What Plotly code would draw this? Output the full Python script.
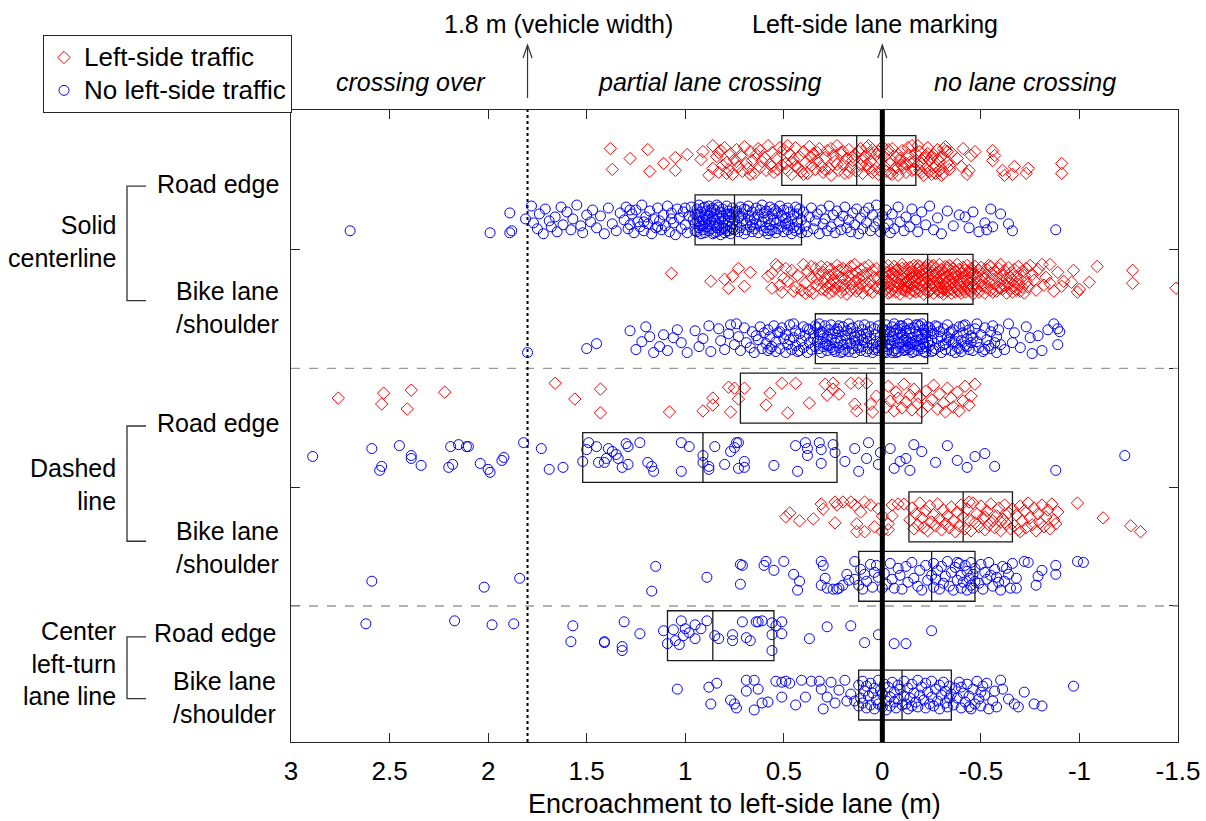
import plotly.graph_objects as go

# ---------------------------------------------------------------
# Data: (encroachment in cm, vertical jitter in 1/60 of a row)
# positive encroachment = into the left-side lane
# ---------------------------------------------------------------
solid_road_left = [
 (138,-12),(137,9),(128,-2),(119,-11),(118,11),(111,3),(105,10),(105,-3),(99,-6),(92,-1),(91,-9),(86,-15),(88,15),(86,8),
 (84,-4),(83,12),(82,-10),(81,5),(80,-13),(79,2),(78,9),(77,-7),(76,14),(75,-1),(74,-11),(73,6),(72,-5),(71,11),(70,-14),(69,3),
 (68,8),(67,-9),(66,0),(65,13),(64,-6),(63,-12),(62,7),(61,1),(60,-3),(59,10),(58,-15),(57,4),(56,-8),(55,12),(54,-2),(53,9),
 (52,-13),(51,5),(83,-8),(79,13),(74,1),(67,14),(62,-10),(56,6),
 (50,-11),(49,3),(48,10),(47,-6),(46,14),(45,-1),(44,-13),(43,7),(42,-4),(41,11),(40,-9),(39,2),(38,13),(37,-14),(36,5),(35,-7),
 (34,9),(33,0),(32,-12),(31,6),(30,12),(29,-3),(28,-10),(27,8),(26,15),(25,-5),(24,1),(23,-15),(22,10),(21,-8),(20,4),(19,13),
 (18,-2),(17,-11),(16,7),(15,0),(14,-6),(13,11),(48,-15),(44,6),(40,14),(36,-3),(33,-8),(29,9),(26,-12),(23,4),(20,-9),(17,12),
 (15,-4),(46,2),
 (12,-9),(11,5),(10,13),(9,-4),(8,-13),(7,8),(6,1),(5,-11),(4,10),(3,-6),(2,14),(1,-1),(0,-14),(-1,6),(-2,11),(-3,-8),(-4,3),
 (-5,-12),(-6,9),(-7,-3),(-8,15),(-9,0),(-10,-10),(-11,7),(-12,12),(-13,-5),(-14,2),(-15,-15),(-16,9),(-17,-7),(11,-12),(8,4),
 (5,12),(2,-9),(-1,-4),(-4,13),(-7,7),(-10,5),(-13,-13),(-16,1),(10,0),(6,-7),(1,10),(-3,-11),(-8,-6),(-12,3),(-15,10),(7,-15),
 (-5,14),(-9,-2),
 (-18,4),(-19,-9),(-20,12),(-21,-2),(-22,8),(-23,-13),(-24,0),(-25,14),(-26,-6),(-27,6),(-28,-11),(-29,10),(-30,-4),(-31,13),
 (-32,-14),(-33,2),(-34,9),(-35,-8),(-18,-15),(-20,3),(-22,-5),(-24,11),(-26,7),(-28,-1),(-30,15),(-32,-10),(-34,5),(-19,10),
 (-23,-7),(-27,13),(-31,-12),(-25,-3),(-29,1),(-33,-9),(-21,15),
 (-41,-12),(-43,14),(-45,-5),(-47,-9),(-56,-10),(-56,0),(-57,-5),(-61,10),(-62,15),(-66,14),(-67,6),(-73,13),(-74,8),(-91,3),
 (-91,13),(-38,-2),(-40,6),(-44,10),
]

solid_road_none = [
 (270,11),(199,13),(189,-7),(189,13),(188,11),(181,-1),
 (178,-14),(177,3),(175,9),(174,-6),(172,14),(171,-11),(169,1),(168,7),(166,-3),(165,12),(163,-13),(162,5),(160,-8),(158,10),
 (157,-1),(155,-15),(153,6),(152,13),(150,-5),(148,2),(147,-10),(145,8),(143,-4),(141,14),(139,-12),(137,4),(135,11),(133,-7),
 (131,0),(130,-13),(129,9),(128,5),(127,-6),(126,13),(125,-10),(124,2),(123,7),(122,-15),(121,11),(120,-3),(119,4),(118,-9),
 (117,14),(116,-1),(115,8),(114,-12),(113,1),(112,10),(111,-5),(110,6),(109,-14),(108,12),(107,-7),(106,3),(105,15),(104,-11),
 (103,-2),(102,9),(101,-8),(100,5),(99,13),(98,-4),(97,-13),(96,0),(95,11),(128,-10),(121,2),(114,7),(107,-1),(100,-12),
 (95,-6),(95,4),(94,12),(94,-11),(94,1),(93,-3),(93,8),(93,-15),(92,6),(92,-8),(92,14),(91,0),(91,-12),(91,10),(90,-5),(90,3),
 (90,13),(89,-9),(89,7),(89,-1),(88,11),(88,-14),(88,4),(87,-7),(87,9),(87,2),(86,-12),(86,14),(86,-3),(85,6),(85,-10),(85,0),
 (84,12),(84,-6),(84,8),(83,-2),(83,-13),(83,5),(82,10),(82,-8),(82,15),(81,-4),(81,3),(81,-11),(80,9),(80,-1),(80,13),(79,-14),
 (79,6),(79,-6),(78,1),(78,11),(78,-9),(77,-3),(77,7),(77,14),(76,-12),(76,4),(76,-5),(75,10),(75,-8),(75,0),(94,-5),(91,6),
 (88,-4),(85,13),(82,-1),(79,11),(76,9),(93,2),(90,-13),(87,-10),(84,-15),(81,8),(78,-6),
 (74,5),(74,-9),(73,12),(73,-2),(72,-13),(72,8),(71,1),(71,-6),(70,14),(70,-11),(69,3),(69,10),(68,-4),(68,-14),(67,7),(67,0),
 (66,12),(66,-8),(65,-1),(65,9),(64,-12),(64,4),(63,13),(63,-5),(62,-10),(62,6),(61,2),(61,-15),(60,11),(60,-3),(59,8),(59,-9),
 (58,-1),(58,14),(57,-13),(57,5),(56,10),(56,-6),(55,0),(55,-11),(54,13),(54,3),(53,-7),(53,9),(52,-14),(52,1),(51,7),(51,-4),
 (50,12),(50,-10),(49,4),(49,-2),(48,-12),(48,10),(47,6),(47,-8),(46,14),(46,-1),(45,-5),(45,8),(44,11),(44,-13),(43,2),(43,-6),
 (42,9),(42,-11),(41,0),(41,13),(72,-4),(66,5),(60,-7),(54,-9),(48,3),(69,-10),(57,11),
 (40,-8),(39,6),(38,12),(37,-3),(36,-12),(35,9),(34,1),(33,-6),(32,14),(31,-10),(30,4),(29,-1),(28,11),(27,-14),(26,7),(25,-5),
 (24,13),(23,-9),(22,2),(21,10),(20,-4),(19,-13),(18,8),(17,0),(16,12),(15,-7),(14,5),(13,-11),(12,14),(11,-2),(10,9),(9,-8),
 (8,3),(7,-12),(6,11),(5,-5),(4,7),(3,-15),(2,1),(1,12),(0,-4),(-1,8),
 (-2,-10),(-3,4),(-4,13),(-5,-6),(-6,9),(-8,-13),(-9,2),(-11,11),(-12,-3),(-14,7),(-15,-11),(-17,0),(-18,12),(-20,-8),(-22,5),
 (-24,-14),(-26,10),(-28,-2),(-30,14),(-33,-9),(-36,6),(-39,-5),
 (-42,-3),(-44,8),(-46,-8),(-49,12),(-52,3),(-53,10),(-55,-11),(-56,7),(-60,-6),(-64,4),(-66,11),(-88,10),
]

solid_bike_left = [
 (107,-6),(87,2),(80,0),(78,9),(76,-3),(73,-11),(70,7),(67,-7),(56,9),(56,-6),(54,-15),(53,-13),(51,13),(48,2),(46,-9),(41,11),
 (40,-15),(39,4),(38,-8),(37,12),(36,-2),(35,14),(34,-11),(33,6),(32,-5),(31,10),
 (58,-3),(52,6),(49,-11),(45,12),(43,-4),(39,14),(36,-13),(33,0),(44,8),(50,-1),
 (31,-13),(30,3),(30,-7),(29,11),(29,-1),(28,8),(28,-12),(27,14),(27,-4),(26,5),(26,-10),(25,1),(25,12),(24,-6),(24,9),(23,-14),
 (23,3),(22,7),(22,-9),(21,13),(21,-2),(20,-11),(20,6),(19,0),(19,10),(18,-8),(18,15),(17,-3),(17,4),(16,-13),(16,11),(15,-5),
 (15,8),(14,2),(14,-15),(13,12),(13,-7),(12,-1),(12,9),(11,-10),(11,5),(10,14),(10,-4),(9,-12),(9,1),(8,7),(8,-6),(7,11),(7,-14),
 (6,3),(5,-9),(5,13),(4,-2),(3,8),(3,-11),(2,0),(1,10),(0,-5),
 (0,6),(-1,-12),(-1,12),(-1,1),(-2,-7),(-2,9),(-3,-3),(-3,14),(-3,-14),(-4,4),(-4,-9),(-5,11),(-5,0),(-5,-6),(-6,7),(-6,-13),
 (-7,2),(-7,13),(-7,-2),(-8,-10),(-8,9),(-9,-4),(-9,5),(-9,15),(-10,-15),(-10,1),(-10,10),(-11,-7),(-11,6),(-11,-1),(-12,12),
 (-12,-11),(-12,3),(-13,-5),(-13,8),(-14,14),(-14,-12),(-14,0),(-15,5),(-15,-8),(-15,11),(-16,-2),(-16,-14),(-16,7),(-17,13),
 (-17,-6),(-17,2),(-18,-10),(-18,9),(-18,-1),(-19,4),(-19,-13),(-19,12),(-20,-4),(-20,7),(-20,-9),(-21,15),(-21,0),(-21,-11),
 (-22,10),(-22,-6),(-22,3),(-23,-15),(-23,13),(-23,-2),(-2,2),(-4,13),(-6,-5),(-8,4),(-10,-11),(-12,8),(-14,-7),(-16,12),
 (-18,-14),(-20,1),(-22,-12),(-3,8),(-7,-9),(-11,11),(-15,-1),(-19,-7),(-13,1),
 (-24,6),(-24,-9),(-24,12),(-25,0),(-25,-13),(-25,9),(-26,-4),(-26,14),(-26,3),(-27,-11),(-27,7),(-27,-1),(-28,11),(-28,-7),
 (-28,2),(-29,-15),(-29,13),(-29,5),(-30,-3),(-30,9),(-30,-10),(-31,1),(-31,15),(-31,-6),(-32,8),(-32,-13),(-32,4),(-33,-2),
 (-33,12),(-33,-9),(-34,6),(-34,-14),(-34,0),(-35,10),(-35,-5),(-35,14),(-36,-11),(-36,3),(-36,-1),(-37,13),(-37,-8),(-37,7),
 (-38,-3),(-38,11),(-38,-15),(-39,5),(-39,-10),(-39,1),(-40,14),(-40,-6),(-40,8),(-41,-12),(-41,2),(-41,10),(-42,-4),(-42,13),
 (-42,-9),(-43,6),(-43,-14),(-43,0),(-44,11),(-44,-7),(-44,4),(-45,-1),(-45,12),(-45,-11),(-46,8),(-46,-5),(-46,15),(-25,5),
 (-27,-6),(-29,-2),(-31,10),(-33,-12),(-35,2),(-37,-4),(-39,12),(-41,-1),(-43,9),(-45,-8),(-26,-14),(-30,13),
 (-47,-13),(-47,4),(-48,10),(-48,-3),(-49,-9),(-49,13),(-50,1),(-50,-12),(-51,7),(-51,-5),(-52,14),(-52,-1),(-53,-10),(-53,9),
 (-54,3),(-54,-14),(-55,11),(-55,-6),(-56,0),(-56,13),(-57,-8),(-57,5),(-58,12),(-58,-2),(-59,-11),(-59,8),(-60,2),(-60,-15),
 (-61,10),(-61,-4),(-62,6),(-62,-9),(-63,14),(-63,-1),(-64,-12),(-64,4),(-65,9),(-65,-6),(-66,1),(-66,13),(-67,-10),(-67,7),
 (-68,-3),(-68,11),(-69,-13),(-69,5),(-70,0),(-70,12),(-71,-8),(-71,8),(-72,-4),(-72,14),(-73,-11),(-73,3),(-50,6),(-55,-13),
 (-60,9),(-65,-2),
 (-75,-14),(-77,1),(-81,-15),(-85,-15),(-85,4),(-91,7),(-92,2),(-96,3),(-97,-9),(-99,13),(-100,10),(-105,3),(-109,-13),
 (-127,-9),(-127,4),(-149,9),(-74,8),(-76,-5),(-78,11),(-79,-10),(-82,6),(-83,-2),(-87,12),(-89,-7),
]

solid_bike_none = [
 (180,14),(150,10),(145,5),(128,-8),(122,3),(116,14),(111,-4),(109,12),(106,-1),(102,4),(120,-12),(113,8),(104,-9),(125,11),(118,-2),
 (99,14),(95,-8),(93,8),(91,0),(88,-13),(87,13),(83,-10),(82,2),(80,11),(78,-5),(77,-14),(75,6),(73,-2),(72,12),(70,-11),(69,4),
 (67,9),(66,-7),(65,14),(64,-3),(63,1),(62,-12),(61,10),(60,-6),(74,-15),
 (59,5),(58,-9),(58,12),(57,-2),(56,8),(55,-13),(54,3),(54,13),(53,-6),(52,10),(51,-11),(50,0),(49,14),(49,-4),(48,6),(47,-14),
 (46,11),(45,-1),(44,-8),(44,7),(43,13),(42,-5),(41,2),(40,-12),(40,9),(39,-3),(38,14),(37,-9),(37,4),(36,11),(35,-6),(35,0),
 (34,-13),(34,8),(57,10),(52,-7),(47,1),(42,12),(38,-10),(45,-15),
 (33,3),(33,-11),(32,10),(32,-4),(31,14),(31,-7),(30,0),(30,8),(29,-13),(29,5),(28,12),(28,-2),(27,-9),(27,7),(26,1),(26,-14),
 (25,11),(25,-5),(24,4),(24,13),(23,-10),(23,-1),(22,9),(22,-7),(21,14),(21,2),(20,-12),(20,6),(19,-3),(19,11),(18,-8),(18,0),
 (17,13),(17,-15),(16,5),(16,-5),(15,10),(15,-11),(14,2),(14,14),(13,-6),(13,7),(12,-13),(12,1),(11,12),(11,-3),(10,-9),(10,8),
 (9,4),(9,-14),(8,13),(8,-1),(7,-7),(7,10),(6,0),(6,-12),(5,6),(5,14),(4,-4),(4,-10),(3,9),(3,3),(2,-13),(2,12),(1,-2),(1,7),
 (32,-15),(28,6),(24,-8),(20,13),(16,-10),(12,9),(8,-5),(4,11),(30,-6),(26,9),(22,-13),(18,5),(14,-2),(10,1),
 (0,4),(0,-10),(-1,13),(-1,-3),(-2,8),(-2,-14),(-3,0),(-3,11),(-4,-7),(-4,6),(-5,14),(-5,-12),(-6,2),(-6,-5),(-7,10),(-7,-9),
 (-8,-1),(-8,13),(-9,5),(-9,-13),(-10,9),(-10,-4),(-11,1),(-11,12),(-12,-8),(-12,7),(-13,-15),(-13,3),(-14,11),(-14,-6),
 (-15,-1),(-15,14),(-16,6),(-16,-11),(-17,2),(-17,-7),(-18,12),(-18,-3),(-19,8),(-19,-13),(-20,0),(-20,10),(-21,-9),(-21,5),
 (-22,14),(-22,-5),(-23,-12),(-23,3),(0,9),(-2,-7),(-4,1),(-6,12),(-8,-10),(-10,-13),(-12,0),(-14,5),(-16,13),(-18,-14),
 (-20,-4),(-22,8),(-1,-9),(-3,6),(-5,-2),(-7,14),(-9,-6),(-11,-11),(-13,9),(-15,4),(-17,-14),(-19,1),(-21,13),(-23,-6),
 (-6,-15),(-10,3),(-14,-10),(-18,7),(-22,-1),(-2,14),(-12,11),(-20,-15),
 (-24,7),(-24,-11),(-25,2),(-25,13),(-26,-5),(-27,10),(-27,-13),(-28,0),(-29,8),(-29,-7),(-30,14),(-30,-2),(-31,-10),(-32,5),
 (-32,11),(-33,-14),(-34,1),(-34,-6),(-35,12),(-36,-9),(-36,4),(-37,14),(-38,-3),(-38,9),(-39,-12),(-40,2),(-40,13),(-41,-6),
 (-42,7),(-42,-14),(-43,0),(-44,11),(-44,-9),(-45,4),(-45,-3),(-26,12),(-28,-12),(-31,6),(-33,-1),(-35,-7),(-37,3),(-39,10),
 (-41,-13),(-43,8),(-25,-8),
 (-46,12),(-47,-10),(-48,3),(-48,-15),(-49,9),(-50,-4),(-51,13),(-52,-11),(-53,1),(-54,7),(-55,-7),(-55,10),(-56,-13),(-57,4),
 (-58,14),(-58,-2),(-59,-9),(-60,6),(-52,11),(-46,-1),
 (-64,-15),(-66,4),(-73,-12),(-75,-1),(-76,15),(-79,-3),(-87,-15),(-89,-10),(-90,-7),(-89,6),(-62,11),(-67,-6),(-70,9),(-81,12),(-84,-9),
]

dashed_road_left = [
 (276,0),(254,6),(253,-5),(241,11),(239,-8),(222,-6),(166,-15),(156,1),(143,-9),(143,15),(108,14),(91,13),(86,0),(86,7),
 (78,-11),(77,14),(75,-10),(73,1),(70,-10),(59,7),(57,-5),(51,-15),(48,15),(44,-15),(37,5),(29,-14),(28,-3),(25,-15),(25,-9),
 (22,-4),(16,-15),(14,6),(13,13),(12,-15),(8,-15),(6,6),(5,14),(3,-2),
 (-2,9),(-3,-12),(-4,3),(-6,13),(-7,-6),(-8,0),(-10,10),(-11,-14),(-12,4),(-14,-3),(-15,12),(-16,-9),(-18,6),(-19,-1),(-20,14),
 (-22,-7),(-23,8),(-25,2),(-26,-13),(-28,11),(-29,-4),(-31,5),(-32,14),(-33,-10),(-35,0),(-36,9),(-38,-6),(-39,13),(-41,3),
 (-42,-12),(-44,7),(-45,-2),(-47,-14),
]

dashed_road_none = [
 (289,-1),(259,-9),(255,13),(254,9),(245,-12),(239,-2),(239,1),(234,8),(220,10),(219,-11),(218,7),(215,-13),(211,-11),(210,-11),
 (204,6),(200,12),(199,15),(193,3),(192,0),(182,-15),(173,-9),(169,12),(162,10),(152,4),(149,-15),(150,-8),(145,-11),(144,5),
 (141,5),(140,1),(139,-9),(137,-6),(135,-3),(134,1),(132,10),(130,-14),(129,-11),(129,7),(123,-15),(119,5),(117,9),(116,14),
 (102,14),(102,-15),(98,-11),(91,-2),(91,5),(88,9),(88,12),(85,-11),(80,7),(77,-6),(75,-10),(74,-15),(73,-15),(73,11),(70,4),
 (70,10),(55,8),(44,-12),(43,14),(39,-15),(38,-9),(38,-2),(32,-15),(31,-8),(31,6),(25,-13),(24,-5),(19,4),(14,-9),(12,14),
 (8,1),(7,-15),(2,7),(1,-5),(-4,-9),
 (-12,1),(-14,13),(-27,5),(-38,3),(-47,-1),(-57,9),(-88,13),(-123,-2),(-6,11),(-20,-6),(-33,-12),(-52,-4),(-9,4),(-16,-13),(-43,10),
]

dashed_bike_left = [
 (49,0),(47,-4),(42,4),(35,2),(31,-13),(30,-8),(24,-15),(23,-12),(24,6),(20,-15),(16,-15),(14,-12),(13,7),(13,15),(11,-5),
 (9,-15),(9,15),(6,-12),(4,10),(2,-8),(0,-1),(0,15),(-3,7),(-3,13),(-5,-12),(-5,-1),(-8,-13),(-11,-13),
 (-14,3),(-15,-9),(-16,12),(-17,-3),(-18,8),(-19,-14),(-20,1),(-21,11),(-22,-6),(-23,14),(-24,-11),(-25,5),(-26,-2),(-27,9),
 (-28,-13),(-29,2),(-30,13),(-31,-7),(-32,7),(-33,-1),(-34,11),(-35,-10),(-36,4),(-37,15),(-38,-5),(-39,9),(-40,-12),(-41,0),
 (-42,12),(-43,-8),(-44,3),(-45,14),(-46,-14),(-47,6),(-48,-3),(-49,10),(-50,-11),(-51,1),(-52,13),(-53,-6),(-54,8),(-55,-13),
 (-56,4),(-57,11),(-58,-1),(-59,-9),(-60,14),(-61,2),(-62,-12),(-63,7),(-64,-4),(-65,12),(-66,-8),(-44,-15),(-52,0),(-60,5),
 (-67,9),(-68,-2),(-69,13),(-70,-11),(-71,4),(-72,-6),(-73,11),(-74,-14),(-75,1),(-76,8),(-77,-9),(-78,14),(-79,-3),(-80,6),
 (-81,-12),(-82,10),(-83,0),(-84,-7),(-85,12),(-86,-13),(-87,3),(-88,7),(-89,-5),(-70,15),(-99,-14),(-112,1),(-126,9),(-131,15),
]

dashed_bike_none = [
 (259,5),(202,11),(184,2),(117,15),(115,-10),(89,1),(72,-12),(71,-11),(72,8),(59,-15),(60,-11),(55,-6),(50,-15),(45,-2),(42,5),
 (43,14),(31,-15),(30,-11),(29,2),(31,9),(28,12),(25,13),(23,13),(22,12),(20,9),(18,-2),(17,4),(14,3),(14,-15),
 (12,9),(11,-7),(10,13),(9,-2),(8,5),(6,-12),(5,11),(4,-4),(3,-11),(2,1),(0,12),(-1,-3),(-2,8),(-4,-13),(-5,3),(-6,12),(-8,-8),
 (-9,-1),(-10,13),(-12,-10),(-13,6),(-15,-14),(-16,2),(-18,10),(-19,-6),(-20,14),(-22,-11),(-23,4),(-25,-1),
 (-26,11),(-26,-13),(-27,3),(-28,-6),(-29,13),(-30,-10),(-31,7),(-32,0),(-33,-15),(-34,10),(-35,-4),(-36,14),(-37,-9),(-38,4),
 (-39,-13),(-40,12),(-40,-1),(-41,6),(-42,-11),(-43,14),(-43,-5),(-44,2),(-45,-14),(-45,9),(-46,-2),(-46,12),(-47,-8),(-47,5),
 (-38,-14),
 (-49,7),(-50,-12),(-51,13),(-52,-4),(-53,3),(-54,-14),(-56,10),(-57,-7),(-58,1),(-60,14),(-61,-10),(-62,5),(-64,-2),(-65,12),
 (-66,-13),(-68,2),(-68,12),(-72,-15),(-74,-14),(-78,9),(-79,0),(-81,-6),(-88,-11),(-88,-2),(-99,-15),(-102,-14),(-55,-1),
 (-59,6),(-63,-8),
]

turnlane_road_none = [
 (262,-12),(217,-15),(198,-11),(187,-12),(157,-10),(158,6),(141,6),(141,7),(132,11),(132,15),(131,-14),(123,-2),(111,-5),
 (109,8),(106,-6),(105,5),(103,9),(102,-15),(101,0),(100,-7),(98,-3),(95,-11),(95,3),(92,-7),(89,-15),(85,0),(83,3),(76,-1),
 (76,5),(71,-14),(69,2),(67,5),(64,-14),(63,-14),(61,-15),(56,-1),(56,-13),(54,-10),(51,-14),(51,-2),(56,15),(37,3),(28,-9),
 (16,-10),(9,7),(2,-1),(-6,8),(-12,8),(-25,-5),
]

turnlane_bike_none = [
 (104,-6),(87,9),(88,-8),(84,-12),(77,5),(75,9),(74,13),(69,-15),(69,-4),(65,-15),(63,-6),(65,15),(61,8),(58,7),(54,-14),
 (51,-13),(51,2),(49,-14),(47,-12),(44,10),(41,-15),(39,2),(36,-14),(32,-14),(31,-6),(30,14),(28,2),(26,-13),(24,8),(22,-5),
 (19,-15),(18,6),(16,-1),(14,6),
 (12,-10),(12,11),(11,3),(10,-14),(10,8),(9,-4),(8,13),(8,-9),(7,1),(6,-12),(6,10),(5,-2),(4,14),(4,-7),(3,5),(2,-15),(2,9),
 (1,-5),(0,12),(0,-1),(-1,-11),(-2,6),(-2,15),(-3,-8),(-4,2),(-4,11),(-5,-13),(-6,7),(-6,-3),(-7,13),(-8,-10),(-8,4),(-9,-6),
 (-10,10),
 (-11,-14),(-11,1),(-12,9),(-13,-7),(-13,14),(-14,3),(-15,-11),(-15,11),(-16,-2),(-17,7),(-18,-15),(-18,12),(-19,0),(-20,-8),
 (-21,5),(-22,13),(-22,-12),(-23,-3),(-24,9),(-25,-14),(-25,2),(-26,11),(-27,-6),(-28,6),(-29,-10),(-29,14),(-30,0),(-31,-13),
 (-32,8),(-32,-4),(-33,12),(-34,-9),(-34,3),(-35,-1),
 (-36,10),(-37,-7),(-38,3),(-39,-13),(-40,13),(-41,-2),(-42,7),(-43,-11),(-44,1),(-45,14),(-46,-6),(-47,9),(-48,-14),(-49,4),
 (-50,11),(-51,-9),(-52,0),(-53,-12),(-54,14),(-56,6),(-57,-4),(-58,12),(-60,-15),(-61,-6),(-64,4),(-67,9),(-69,12),(-72,-3),
 (-77,9),(-81,11),(-97,-9),(-40,-8),(-44,12),(-50,-3),
]

# Box statistics per row (cm): first quartile, median, third quartile
box_q1     = [51, 95,   0, 34, 72, 152, -13.5, 12, 109, 12]
box_median = [13, 75, -23,  1,  8,  91, -41, -25,  86, -10]
box_q3     = [-17, 41, -46, -23, -20, 23, -66, -47, 55, -35]

row_series = [solid_road_left, solid_road_none, solid_bike_left, solid_bike_none,
              dashed_road_left, dashed_road_none, dashed_bike_left, dashed_bike_none,
              turnlane_road_none, turnlane_bike_none]
row_traffic = ["left", "none", "left", "none", "left", "none", "left", "none", "none", "none"]

legend_names = ["Left-side traffic", "No left-side traffic"]
group_names = ["Solid<br>centerline", "Dashed<br>line", "Center<br>left-turn<br>lane line"]
group_rows = [(0, 3), (4, 7), (8, 9)]
sub_labels = ["Road edge", "Bike lane<br>/shoulder"]

x_tick_vals = [3, 2.5, 2, 1.5, 1, 0.5, 0, -0.5, -1, -1.5]
x_tick_text = ["3", "2.5", "2", "1.5", "1", "0.5", "0", "-0.5", "-1", "-1.5"]

VEHICLE_WIDTH = 1.8

# ---------------------------------------------------------------
FONT = "Liberation Sans, Arial, Helvetica, sans-serif"
W, H = 1206, 821
ML, MR, MT, MB = 291, 28, 110, 79
PW, PH = W - ML - MR, H - MT - MB
JIT = 1 / 60.0   # jitter unit, in rows
BOX_HALF = 0.42

def px_x(px):
    return (px - ML) / PW

def px_y(py):
    return (H - MB - py) / PH

red_x, red_y, blue_x, blue_y = [], [], [], []
for row, (pts, tr) in enumerate(zip(row_series, row_traffic)):
    for cm, j in pts:
        if tr == "left":
            red_x.append(cm / 100.0); red_y.append(row + j * JIT)
        else:
            blue_x.append(cm / 100.0); blue_y.append(row + j * JIT)

def legend_label(s):
    return f"<span style='font-size:26px'>{s}</span>"

fig = go.Figure()
fig.add_trace(go.Scatter(
    x=red_x, y=red_y, mode="markers", name=legend_label(legend_names[0]),
    marker=dict(symbol="diamond-open", size=9.5, color="#ff0000", line=dict(width=1))))
fig.add_trace(go.Scatter(
    x=blue_x, y=blue_y, mode="markers", name=legend_label(legend_names[1]),
    marker=dict(symbol="circle-open", size=10, color="#0000ff", line=dict(width=1))))

shapes = []
for a, b in group_rows[:-1]:
    yy = b + 0.5
    shapes.append(dict(type="line", xref="paper", yref="y", x0=0, x1=1, y0=yy, y1=yy,
                       line=dict(color="#9a9a9a", width=1.3, dash="dash"), layer="above"))
for row in range(len(box_q1)):
    q1, md, q3 = box_q1[row] / 100, box_median[row] / 100, box_q3[row] / 100
    shapes.append(dict(type="rect", xref="x", yref="y", x0=q1, x1=q3,
                       y0=row - BOX_HALF, y1=row + BOX_HALF,
                       line=dict(color="#1a1a1a", width=1.3), layer="above"))
    shapes.append(dict(type="line", xref="x", yref="y", x0=md, x1=md,
                       y0=row - BOX_HALF, y1=row + BOX_HALF,
                       line=dict(color="#1a1a1a", width=1.3), layer="above"))
shapes.append(dict(type="line", xref="x", yref="paper", x0=VEHICLE_WIDTH, x1=VEHICLE_WIDTH, y0=0, y1=1,
                   line=dict(color="black", width=2, dash="dot"), layer="above"))
shapes.append(dict(type="line", xref="x", yref="paper", x0=0, x1=0, y0=0, y1=1,
                   line=dict(color="black", width=5), layer="above"))
arrow_dx = 4.5 / (PW / 4.5)
for xv in [VEHICLE_WIDTH, 0]:
    shapes.append(dict(type="line", xref="x", yref="paper", x0=xv, x1=xv, y0=px_y(98), y1=px_y(45),
                       line=dict(color="#333333", width=1.2)))
    shapes.append(dict(type="path", xref="x", yref="paper",
                       path=f"M {xv + arrow_dx},{px_y(58)} L {xv},{px_y(45)} L {xv - arrow_dx},{px_y(58)}",
                       line=dict(color="#333333", width=1.2)))
bracket_ends = [(0.43, 2.36), (4.47, 6.41), (8.02, 9.06)]
bx, bt = px_x(127), px_x(146)
for y0, y1 in bracket_ends:
    shapes.append(dict(type="path", xref="paper", yref="y",
                       path=f"M {bt},{y0} L {bx},{y0} L {bx},{y1} L {bt},{y1}",
                       line=dict(color="#333333", width=1.3)))

annotations = []
sub_pos = [0.4, 2.48, 4.42, 6.52, 7.95, 9.04]
sub_x = [281, 281, 281, 281, 278, 278]
for i, yy in enumerate(sub_pos):
    annotations.append(dict(xref="paper", yref="y", x=px_x(sub_x[i]), y=yy, text=sub_labels[i % 2],
                            showarrow=False, xanchor="right", yanchor="middle", align="right",
                            font=dict(size=25, color="black", family=FONT)))
group_y = [1.37, 5.46, 8.46]
for name, yy in zip(group_names, group_y):
    annotations.append(dict(xref="paper", yref="y", x=px_x(118), y=yy, text=name,
                            showarrow=False, xanchor="right", yanchor="middle", align="right",
                            font=dict(size=25, color="black", family=FONT)))
top_texts = [("1.8 m (vehicle width)", 558, 24, False), ("Left-side lane marking", 875, 24, False),
             ("crossing over", 411, 82, True), ("partial lane crossing", 709, 82, True),
             ("no lane crossing", 1025, 82, True)]
for txt, cx, cy, it in top_texts:
    annotations.append(dict(xref="paper", yref="paper", x=px_x(cx), y=px_y(cy),
                            text=f"<i>{txt}</i>" if it else txt, showarrow=False,
                            xanchor="center", yanchor="middle",
                            font=dict(size=25, color="black", family=FONT)))
annotations.append(dict(xref="paper", yref="paper", x=0.5, y=px_y(804),
                        text="Encroachment to left-side lane (m)", showarrow=False,
                        xanchor="center", yanchor="middle",
                        font=dict(size=27, color="black", family=FONT)))

fig.update_layout(
    width=W, height=H, margin=dict(l=ML, r=MR, t=MT, b=MB, autoexpand=False),
    paper_bgcolor="white", plot_bgcolor="white",
    font=dict(family=FONT, color="black"),
    shapes=shapes, annotations=annotations,
    legend=dict(x=px_x(43), y=px_y(35), xanchor="left", yanchor="top",
                bgcolor="white", bordercolor="#262626", borderwidth=1,
                font=dict(size=23, color="black", family=FONT),
                tracegroupgap=0, itemwidth=30),
    showlegend=True,
)
fig.update_xaxes(range=[3, -1.5], tickvals=x_tick_vals, ticktext=x_tick_text, automargin=False,
                 ticks="inside", ticklen=9, tickcolor="#262626", tickwidth=1,
                 showline=True, linecolor="#262626", linewidth=1, mirror="ticks",
                 showgrid=False, zeroline=False, ticklabelstandoff=6,
                 tickfont=dict(size=26, color="black", family=FONT))
fig.update_yaxes(range=[9.79, -0.85], tickvals=[1.5, 3.5, 5.5, 7.5], showticklabels=False, automargin=False,
                 ticks="inside", ticklen=9, tickcolor="#262626", tickwidth=1,
                 showline=True, linecolor="#262626", linewidth=1, mirror="ticks",
                 showgrid=False, zeroline=False)

fig.write_html("out.html", config={"displayModeBar": False},
               post_script="document.body.style.margin='0';document.body.style.overflow='hidden';")
